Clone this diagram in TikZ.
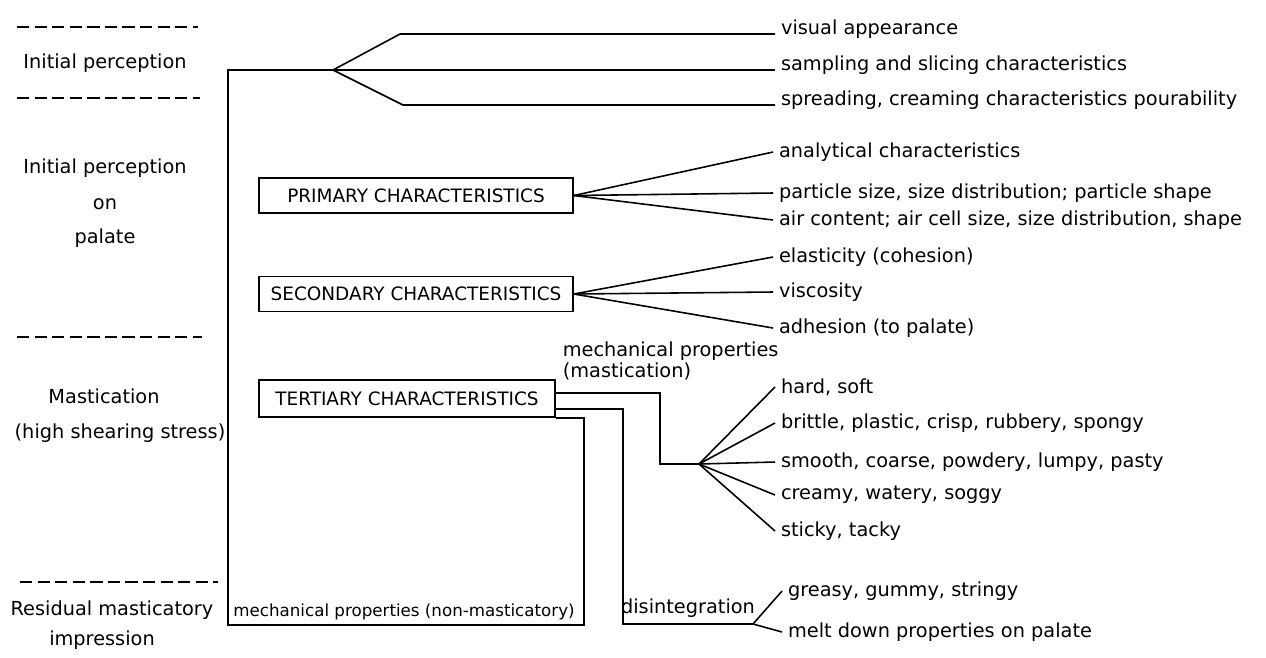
\documentclass[tikz,border=0pt]{standalone}
\usepackage{fontspec}
\setmainfont{DejaVu Sans}
\usetikzlibrary{positioning}

\begin{document}
\begin{tikzpicture}[x=0.02cm,y=-0.02cm,line width=0.9pt,
    every node/.style={font=\fontsize{11}{13.2}\selectfont},
    charbox/.style={draw,minimum height=0.7cm,inner sep=2pt,
      font=\fontsize{10.5}{12}\selectfont},
    item/.style={anchor=west,inner sep=3pt},
    topitem/.style={anchor=base west,inner sep=3pt},
    sep/.style={dash pattern=on 7pt off 3pt}]
  \useasboundingbox (0,0) rectangle (1266,657);

  % stages on the left
  \draw[sep] (17,27) -- (198,27);
  \draw[sep] (17,98) -- (200,98);
  \draw[sep] (17,337) -- (202,337);
  \draw[sep] (20,582) -- (218,582);
  \node (ip) at (105,63) {Initial perception};
  \node (pal1) at (105,168) {Initial perception};
  \node (pal2) at (105,204) {on};
  \node (pal3) at (105,238) {palate};
  \node (mas1) at (104,396) {Mastication};
  \node (mas2) at (120,433) {(high shearing stress)};
  \node (res1) at (112,610) {Residual masticatory};
  \node (res2) at (102,640) {impression};

  % characteristics
  \node[charbox,minimum width=6.28cm] (prim) at (416,195.5) {PRIMARY CHARACTERISTICS};
  \node[charbox,minimum width=6.28cm] (sec) at (416,294) {SECONDARY CHARACTERISTICS};
  \node[charbox,minimum width=5.92cm,minimum height=0.74cm] (tert) at (407,398.5) {TERTIARY CHARACTERISTICS};
  \node[font=\fontsize{9.5}{11}\selectfont] (nonmast) at (404,612) {mechanical properties (non-masticatory)};
  \node[align=left,anchor=north west,inner sep=0pt] (mechmast) at (562,341)
    {mechanical properties\\[-1.5pt](mastication)};
  \node (disint) at (688,608) {disintegration};

  % right hand items
  \node[topitem] (vis) at (775,34) {visual appearance};
  \node[topitem] (slice) at (775,70) {sampling and slicing characteristics};
  \node[topitem] (spread) at (775,105) {spreading, creaming characteristics pourability};
  \node[item] (anal) at (773,152) {analytical characteristics};
  \node[item] (part) at (773,193) {particle size, size distribution; particle shape};
  \node[item] (air) at (773,220) {air content; air cell size, size distribution, shape};
  \node[item] (elast) at (773,257) {elasticity (cohesion)};
  \node[item] (visc) at (773,292) {viscosity};
  \node[item] (adh) at (773,328) {adhesion (to palate)};
  \node[item] (hard) at (775,387) {hard, soft};
  \node[item] (brit) at (775,423) {brittle, plastic, crisp, rubbery, spongy};
  \node[item] (smooth) at (775,462) {smooth, coarse, powdery, lumpy, pasty};
  \node[item] (cream) at (775,495) {creamy, watery, soggy};
  \node[item] (sticky) at (775,531) {sticky, tacky};
  \node[item] (greasy) at (782,591) {greasy, gummy, stringy};
  \node[item] (melt) at (782,632) {melt down properties on palate};

  \coordinate (top) at (228,70);
  \coordinate (corner) at (228,625);
  \coordinate (fork0) at (333,70);
  \coordinate (mfork) at (699,464);
  \coordinate (dfork) at (753,624);

  % connectors
  \draw (tert.south east) -- ++(28,0) |- (corner) -- (top) -- (fork0);
  \draw (fork0) -- (400,34) -- (vis.base west);
  \draw (fork0) -- (slice.base west);
  \draw (fork0) -- (403,105) -- (spread.base west);
  \draw (prim.east) -- (anal.west);
  \draw (prim.east) -- (part.west);
  \draw (prim.east) -- (air.west);
  \draw (sec.east) -- (elast.west);
  \draw (sec.east) -- (visc.west);
  \draw (sec.east) -- (adh.west);
  \draw ([yshift=3pt]tert.east) -| (660,464) -- (mfork);
  \draw (mfork) -- (hard.west);
  \draw (mfork) -- (brit.west);
  \draw (mfork) -- (smooth.west);
  \draw (mfork) -- (cream.west);
  \draw (mfork) -- (sticky.west);
  \draw ([yshift=-6pt]tert.east) -| (623,624) -- (dfork);
  \draw (dfork) -- (greasy.west);
  \draw (dfork) -- (melt.west);
\end{tikzpicture}
\end{document}
